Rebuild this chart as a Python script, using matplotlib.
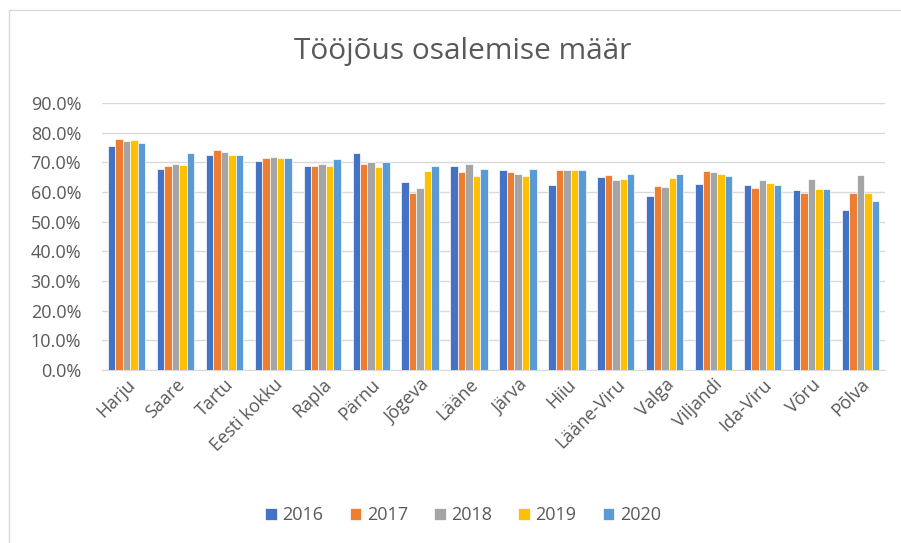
import numpy as np
import matplotlib.pyplot as plt
from matplotlib.ticker import FuncFormatter
from matplotlib.patches import Rectangle

regions = ["Harju", "Saare", "Tartu", "Eesti kokku", "Rapla", "Pärnu", "Jõgeva",
           "Lääne", "Järva", "Hiiu", "Lääne-Viru", "Valga", "Viljandi",
           "Ida-Viru", "Võru", "Põlva"]
years = ["2016", "2017", "2018", "2019", "2020"]

v2016 = [75.6, 67.8, 72.6, 70.4, 68.6, 73.3, 63.4, 68.7, 67.3, 62.2, 64.9, 58.7, 62.6, 62.3, 60.6, 53.9]
v2017 = [77.9, 68.7, 74.3, 71.6, 68.6, 69.4, 59.6, 66.7, 66.7, 67.5, 65.7, 62.0, 67.2, 61.4, 59.8, 59.8]
v2018 = [77.2, 69.5, 73.4, 71.9, 69.4, 70.1, 61.5, 69.4, 65.9, 67.5, 64.2, 61.8, 66.6, 64.0, 64.3, 65.8]
v2019 = [77.4, 69.0, 72.6, 71.5, 68.7, 68.4, 67.0, 65.3, 65.3, 67.5, 64.4, 64.6, 66.0, 63.0, 60.9, 59.5]
v2020 = [76.5, 73.3, 72.5, 71.6, 71.0, 70.0, 68.7, 67.7, 67.6, 67.5, 66.1, 66.1, 65.3, 62.3, 60.9, 57.0]

series = [v2016, v2017, v2018, v2019, v2020]
colors = ["#4472C4", "#ED7D31", "#A5A5A5", "#FFC000", "#5B9BD5"]

plt.rcParams['font.family'] = ['Open Sans', 'DejaVu Sans']

fig = plt.figure(figsize=(9.01, 5.43), dpi=100)
ax = fig.add_axes([102 / 901, 1 - 370 / 543, 783 / 901, 267 / 543])

x = np.arange(len(regions))
w = 0.152
for i, (vals, c) in enumerate(zip(series, colors)):
    ax.bar(x + (i - 2) * w, np.array(vals) / 100, width=w, color=c,
           edgecolor="white", linewidth=0.5, label=years[i], zorder=3)

ax.set_ylim(0, 0.9)
ax.set_xlim(-0.5, len(regions) - 0.5)
ax.set_yticks(np.arange(0, 0.91, 0.1))
ax.yaxis.set_major_formatter(FuncFormatter(lambda v, p: f"{v * 100:.1f}%"))
ax.grid(axis="y", color="#D9D9D9", linewidth=1, zorder=0)
for s in ["top", "right", "left"]:
    ax.spines[s].set_visible(False)
ax.spines["bottom"].set_color("#D9D9D9")
ax.tick_params(axis="both", length=0, labelsize=13, colors="#595959")
ax.tick_params(axis="y", pad=15)
ax.tick_params(axis="x", pad=4)
ax.set_xticks(x)
ax.set_xticklabels(regions, rotation=45, ha="right", rotation_mode="anchor")

# chart frame runs past the right edge of the picture, so its centre sits right of 0.5
cx = 463 / 901
fig.text(cx, 1 - 51 / 543, "Tööjõus osalemise määr", ha="center", va="center",
         fontsize=21.5, color="#595959")

fig.legend(loc="center", bbox_to_anchor=(cx, 1 - 515 / 543), ncol=5, frameon=False,
           fontsize=13, handlelength=0.65, handleheight=0.65, handletextpad=0.3,
           columnspacing=1.45, labelcolor="#595959")

fig.patches.append(Rectangle((9 / 901, -0.05), 1.0, 1 - 10 / 543 + 0.05,
                             transform=fig.transFigure, fill=False,
                             edgecolor="#D9D9D9", linewidth=1))

fig.savefig("out.png", dpi=100)
